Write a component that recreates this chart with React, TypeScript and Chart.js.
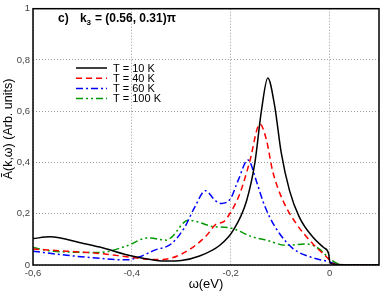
import React, { useEffect, useRef } from "react";
import { Chart, registerables } from "chart.js";

Chart.register(...registerables);

// ---- data ----
const xTickValues = [-0.6, -0.4, -0.2, 0];

const t10X = [-0.6, -0.566, -0.5, -0.465, -0.4, -0.35, -0.33, -0.3, -0.263, -0.222, -0.195, -0.168, -0.151, -0.138, -0.125, -0.111, -0.098, -0.081, -0.061, -0.034, -0.012, -0.002, 0.001, 0.01, 0.03, 0.1];
const t10Y = [0.103, 0.11, 0.085, 0.07, 0.035, 0.018, 0.016, 0.018, 0.035, 0.077, 0.135, 0.25, 0.4, 0.6, 0.73, 0.62, 0.44, 0.29, 0.186, 0.109, 0.068, 0.045, 0.008, 0.003, 0.0, 0.0];

const t40X = [-0.6, -0.532, -0.465, -0.4, -0.354, -0.32, -0.276, -0.249, -0.229, -0.215, -0.202, -0.182, -0.162, -0.141, -0.128, -0.115, -0.094, -0.067, -0.034, -0.003, 0.01, 0.03, 0.1];
const t40Y = [0.062, 0.054, 0.045, 0.03, 0.021, 0.027, 0.07, 0.115, 0.16, 0.168, 0.2, 0.276, 0.4, 0.55, 0.49, 0.365, 0.25, 0.16, 0.083, 0.026, 0.003, 0.0, 0.0];

const t60X = [-0.6, -0.532, -0.465, -0.411, -0.384, -0.354, -0.32, -0.293, -0.273, -0.251, -0.232, -0.219, -0.2, -0.185, -0.165, -0.148, -0.135, -0.121, -0.101, -0.074, -0.04, 0.0, 0.02, 0.1];
const t60Y = [0.054, 0.038, 0.026, 0.02, 0.032, 0.058, 0.083, 0.148, 0.225, 0.29, 0.253, 0.24, 0.26, 0.33, 0.41, 0.327, 0.25, 0.186, 0.122, 0.064, 0.032, 0.012, 0.0, 0.0];

const t100X = [-0.6, -0.56, -0.465, -0.411, -0.367, -0.33, -0.32, -0.286, -0.27, -0.236, -0.202, -0.155, -0.128, -0.088, -0.048, -0.021, 0.0, 0.02, 0.04, 0.1];
const t100Y = [0.068, 0.054, 0.049, 0.074, 0.106, 0.097, 0.108, 0.175, 0.17, 0.15, 0.145, 0.109, 0.097, 0.077, 0.082, 0.063, 0.025, 0.003, 0.0, 0.0];

const seriesNames = ["T = 10 K", "T = 40 K", "T = 60 K", "T = 100 K"];
const seriesColors = ["#000000", "#ff0000", "#0000ff", "#009a00"];
const seriesDashes: number[][] = [[], [6, 4], [7, 3, 2, 3], [7, 3, 2, 3, 2, 3]];

const toPoints = (xs: number[], ys: number[]) => xs.map((x, i) => ({ x, y: ys[i] }));

const FONT = "'Liberation Sans', Arial, Helvetica, sans-serif";

const decorPlugin = {
  id: "decor",
  afterDraw(chart: any) {
    const { ctx, chartArea } = chart;
    const { left, right, top, bottom } = chartArea;
    ctx.save();
    // frame
    ctx.strokeStyle = "#000";
    ctx.lineWidth = 1.5;
    ctx.setLineDash([]);
    ctx.strokeRect(left, top, right - left, bottom - top);

    // title inside plot
    ctx.fillStyle = "#000";
    ctx.textBaseline = "middle";
    ctx.textAlign = "left";
    ctx.font = `bold 12px ${FONT}`;
    ctx.fillText("c)", 58, 19);
    ctx.fillText("k", 80, 19);
    ctx.font = `bold 8px ${FONT}`;
    ctx.fillText("3", 86.5, 23);
    ctx.font = `bold 12px ${FONT}`;
    ctx.fillText("= (0.56, 0.31)π", 95, 19);

    // legend
    const rows = [68, 78.2, 88.4, 98.6];
    ctx.font = `11px ${FONT}`;
    for (let i = 0; i < 4; i++) {
      ctx.strokeStyle = seriesColors[i];
      ctx.lineWidth = 1.5;
      ctx.setLineDash(seriesDashes[i]);
      ctx.beginPath();
      ctx.moveTo(76, rows[i]);
      ctx.lineTo(107, rows[i]);
      ctx.stroke();
      ctx.setLineDash([]);
      ctx.fillStyle = "#000";
      ctx.fillText(seriesNames[i], 113, rows[i] + 0.5);
    }

    // axis titles
    ctx.fillStyle = "#000";
    ctx.font = `13px ${FONT}`;
    ctx.textAlign = "center";
    ctx.fillText("ω(eV)", 206, 284);
    ctx.translate(9, 129);
    ctx.rotate(-Math.PI / 2);
    ctx.font = `12.5px ${FONT}`;
    ctx.fillText("Ã(k,ω) (Arb. units)", 0, 0);
    ctx.restore();
  },
};

const fmt = (v: number) => {
  const r = Math.round(v * 10) / 10;
  if (r === 0) return "0";
  return String(r).replace(".", ",");
};

export default function App() {
  const ref = useRef<HTMLCanvasElement | null>(null);
  useEffect(() => {
    if (!ref.current) return;
    const data = [toPoints(t10X, t10Y), toPoints(t40X, t40Y), toPoints(t60X, t60Y), toPoints(t100X, t100Y)];
    const chart = new Chart(ref.current, {
      type: "line",
      data: {
        datasets: data.map((d, i) => ({
          label: seriesNames[i],
          data: d,
          borderColor: seriesColors[i],
          backgroundColor: seriesColors[i],
          borderWidth: 1.5,
          borderDash: seriesDashes[i],
          pointRadius: 0,
          fill: false,
          cubicInterpolationMode: "monotone" as const,
        })),
      },
      options: {
        responsive: false,
        animation: false,
        layout: { padding: { top: 5, right: 3, left: 0, bottom: 0 } },
        plugins: { legend: { display: false }, tooltip: { enabled: false }, title: { display: false } },
        scales: {
          x: {
            type: "linear",
            min: -0.6,
            max: 0.1,
            afterBuildTicks: (scale: any) => {
              scale.ticks = xTickValues.map((v) => ({ value: v }));
            },
            afterFit: (scale: any) => {
              scale.height = 26;
            },
            grid: { color: "#9a9a9a", lineWidth: 1, drawTicks: false },
            border: { display: false, dash: [1, 2] },
            ticks: {
              padding: 3,
              color: "#444",
              font: { family: FONT, size: 9.5 },
              callback: (v: any) => fmt(Number(v)),
              maxRotation: 0,
              autoSkip: false,
            },
          },
          y: {
            min: 0,
            max: 1,
            afterFit: (scale: any) => {
              scale.width = 33;
            },
            grid: { color: "#9a9a9a", lineWidth: 1, drawTicks: false },
            border: { display: false, dash: [1, 2] },
            ticks: {
              stepSize: 0.2,
              padding: 3,
              color: "#444",
              font: { family: FONT, size: 9.5 },
              callback: (v: any) => fmt(Number(v)),
            },
          },
        },
      },
      plugins: [decorPlugin],
    });
    return () => chart.destroy();
  }, []);
  return (
    <div style={{ position: "absolute", left: 0, top: 0, width: 382, height: 291, background: "#fff" }}>
      <canvas ref={ref} width={382} height={291} style={{ display: "block" }} />
    </div>
  );
}
